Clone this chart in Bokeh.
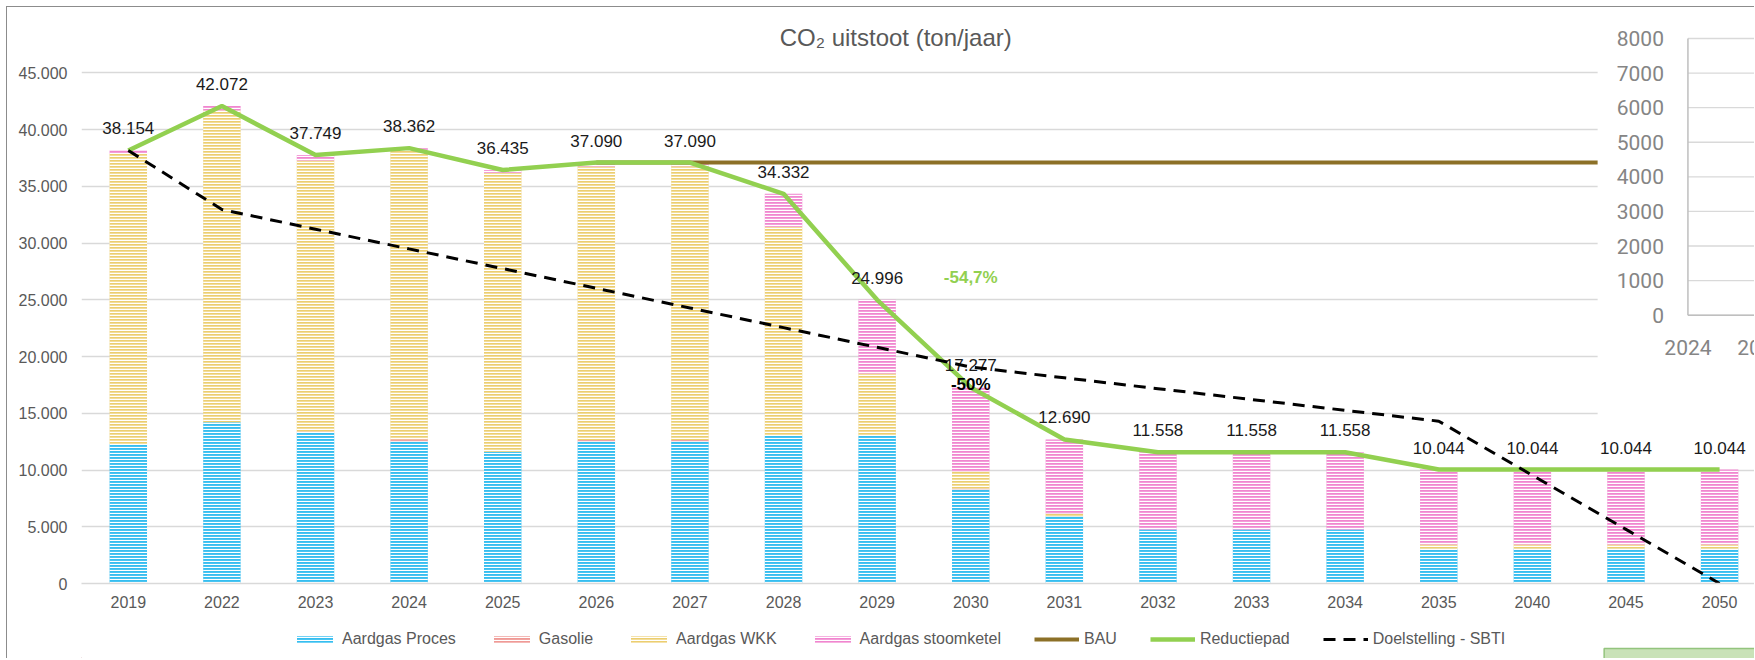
from bokeh.plotting import figure
from bokeh.layouts import column
from bokeh.models import ColumnDataSource, Range1d, FixedTicker, Legend, LegendItem
from bokeh.core.properties import value
from bokeh.embed import file_html
from bokeh.resources import INLINE

# ---------------- data ----------------
categories = ["2019", "2022", "2023", "2024", "2025", "2026", "2027", "2028", "2029",
              "2030", "2031", "2032", "2033", "2034", "2035", "2040", "2045", "2050"]
aardgas_proces = [12300, 14200, 13250, 12500, 11600, 12500, 12500, 13000, 13000,
                  8280, 5930, 4750, 4760, 4760, 3060, 3060, 3060, 3060]
gasolie = [0, 0, 150, 200, 0, 150, 150, 0, 0,
           100, 0, 0, 0, 0, 0, 0, 0, 0]
aardgas_wkk = [25554, 27472, 23869, 25412, 24585, 24090, 24120, 18432, 5496,
               1510, 240, 0, 0, 0, 380, 380, 380, 380]
aardgas_stoomketel = [300, 400, 480, 250, 250, 350, 320, 2900, 6500,
                      7387, 6520, 6808, 6798, 6798, 6604, 6604, 6604, 6604]
totals = [38154, 42072, 37749, 38362, 36435, 37090, 37090, 34332, 24996,
          17277, 12690, 11558, 11558, 11558, 10044, 10044, 10044, 10044]
reductiepad = [38154, 42072, 37749, 38362, 36435, 37090, 37090, 34332, 24996,
               17277, 12690, 11558, 11558, 11558, 10044, 10044, 10044, 10044]
bau_categories = ["2026", "2027", "2028", "2029", "2030", "2031", "2032", "2033",
                  "2034", "2035", "2040", "2045", "2050"]
bau = [37090, 37090, 37090, 37090, 37090, 37090, 37090, 37090,
       37090, 37090, 37090, 37090, 37090]
doelstelling_sbti = [38154, 32951, 31217, 29482, 27748, 26013, 24279, 22545, 20810,
                     19077, 18122, 17167, 16212, 15257, 14302, 9535, 4767, 0]
y_ticks = [0, 5000, 10000, 15000, 20000, 25000, 30000, 35000, 40000, 45000]

annot_categories = ["2030", "2030"]
annot_values = [24996, 17277]
annot_texts = ["-54,7%", "-50%"]

inset_ticks = [0, 1000, 2000, 3000, 4000, 5000, 6000, 7000, 8000]
inset_years = [2024, 2025]

series_names = ["Aardgas Proces", "Gasolie", "Aardgas WKK", "Aardgas stoomketel"]
series_colors = ["#36BEF0", "#EF9A96", "#ECCE70", "#F086CF"]
series_hatch_weights = [1.2, 1.2, 1.6, 1.4]
line_names = ["BAU", "Reductiepad", "Doelstelling - SBTI"]


def nl(v):
    return f"{v:,}".replace(",", ".")


idx = list(range(len(categories)))
bau_x = [categories.index(c) for c in bau_categories]
annot_x = [categories.index(c) for c in annot_categories]

FONT = "Liberation Sans"
HATCH = dict(hatch_pattern="horizontal_line", hatch_color="white", hatch_scale=3)
BAU_STYLE = dict(line_color="#8C7027", line_width=4)
RED_STYLE = dict(line_color="#92D050", line_width=4.5)
SBTI_STYLE = dict(line_color="black", line_width=3, line_dash="12 8")

p = figure(width=1747, height=606,
           x_range=Range1d(-0.5, 17.373), y_range=Range1d(0, 50753),
           output_backend="svg", toolbar_location=None,
           min_border_left=74, min_border_right=0, min_border_top=0, min_border_bottom=30,
           background_fill_color="white", border_fill_color="white",
           outline_line_color=None)
p.extra_x_ranges = {"inset": Range1d(2001.99, 2024.912)}
p.extra_y_ranges = {"inset": Range1d(-7757.5, 8896.4)}

# axes
p.xaxis.ticker = FixedTicker(ticks=idx)
p.xaxis.major_label_overrides = {i: c for i, c in zip(idx, categories)}
p.yaxis.ticker = FixedTicker(ticks=y_ticks)
p.yaxis.major_label_overrides = {t: nl(t) for t in y_ticks}
for ax in (p.xaxis, p.yaxis):
    ax.major_tick_line_color = None
    ax.minor_tick_line_color = None
    ax.major_tick_out = 0
    ax.major_tick_in = 0
    ax.major_label_text_font = FONT
    ax.major_label_text_font_size = "16px"
    ax.major_label_text_color = "#595959"
p.yaxis.axis_line_color = None
p.xaxis.axis_line_color = "#D9D9D9"
p.xaxis.axis_line_width = 1.5
p.yaxis.major_label_standoff = 14
p.xaxis.major_label_standoff = 12
p.xgrid.visible = False
p.ygrid.grid_line_color = "#D9D9D9"
p.ygrid.grid_line_width = 1.5

# bars
src = ColumnDataSource(dict(x=idx, proces=aardgas_proces, gasolie=gasolie,
                            wkk=aardgas_wkk, stoomketel=aardgas_stoomketel))
bars = p.vbar_stack(["proces", "gasolie", "wkk", "stoomketel"], x="x", width=0.4,
                    source=src, fill_color=series_colors, line_color=None,
                    hatch_weight=series_hatch_weights, **HATCH)

# lines
p.line(bau_x, bau, **BAU_STYLE)
p.line(idx, reductiepad, **RED_STYLE)

# data labels
p.text(x=idx, y=totals, text=[nl(v) for v in totals], text_align="center",
       text_baseline="middle", y_offset=-22, text_font=value(FONT),
       text_font_size="17px", text_color="#1a1a1a")

p.line(idx, doelstelling_sbti, **SBTI_STYLE)

p.text(x=annot_x, y=annot_values, text=annot_texts, text_align="center",
       text_baseline="middle", y_offset=[-22, -3], text_font=value(FONT),
       text_font_size="17px", text_font_style="bold",
       text_color=["#92D050", "#000000"])

# title
p.text(x=[8.198], y=[48110], text=["CO\u2082 uitstoot (ton/jaar)"], text_align="center",
       text_baseline="middle", text_font=value(FONT), text_font_size="24px",
       text_color="#595959")

# overlapping second chart (partially visible)
p.quad(left=[15.697], right=[18.5], bottom=[14010], top=[60000],
       fill_color="white", line_color=None)
p.segment(x0=[2024] * len(inset_ticks), y0=inset_ticks, x1=[2030] * len(inset_ticks),
          y1=inset_ticks, line_color="#D9D9D9", line_width=1.3,
          x_range_name="inset", y_range_name="inset")
p.segment(x0=[2024, 2024], y0=[0, 0], x1=[2024, 2030], y1=[8000, 0],
          line_color="#BFBFBF", line_width=1.5,
          x_range_name="inset", y_range_name="inset")
p.text(x=[2024] * len(inset_ticks), y=inset_ticks, text=[str(t) for t in inset_ticks],
       x_offset=-24, text_align="right", text_baseline="middle",
       text_font=value("Roboto"), text_font_size="21px", text_color="#858585",
       x_range_name="inset", y_range_name="inset")
p.text(x=inset_years, y=[0, 0], text=[str(y) for y in inset_years],
       y_offset=32, text_align="center", text_baseline="middle",
       text_font=value("Roboto"), text_font_size="21px", text_color="#858585",
       x_range_name="inset", y_range_name="inset")

# ---------------- legend strip ----------------
lf = figure(width=1747, height=45, x_range=Range1d(0, 1747), y_range=Range1d(0, 45),
            x_axis_type=None, y_axis_type=None, output_backend="svg",
            toolbar_location=None, min_border=0, min_border_left=0, min_border_right=0,
            min_border_top=0, min_border_bottom=0,
            background_fill_color="white", border_fill_color="white",
            outline_line_color=None)
lf.xgrid.visible = False
lf.ygrid.visible = False

# legend proxies (placed outside the visible range of the strip)
leg_bars = [lf.vbar(x=[-1000], top=[1], width=1, fill_color=c, line_color=None,
                    hatch_weight=w, **HATCH)
            for c, w in zip(series_colors, series_hatch_weights)]
leg_lines = [lf.line(x=[-1000, -999], y=[0, 0], **BAU_STYLE),
             lf.line(x=[-1000, -999], y=[0, 0], **RED_STYLE),
             lf.line(x=[-1000, -999], y=[0, 0], **SBTI_STYLE)]

# corner of a neighbouring object in the screenshot
lf.quad(left=[1590], right=[1760], bottom=[-5], top=[10],
        fill_color="#C9E2B8", line_color="#93C47D", line_width=1.5)

items = [LegendItem(label=n, renderers=[r]) for n, r in zip(series_names, leg_bars)]
items += [LegendItem(label=n, renderers=[r]) for n, r in zip(line_names, leg_lines)]
legend = Legend(items=items, orientation="horizontal", location=(211, 10),
                glyph_width=45, glyph_height=8, label_standoff=5, spacing=33,
                padding=2, margin=0, label_text_font=FONT, label_text_font_size="16px",
                label_text_color="#595959", border_line_color=None,
                background_fill_alpha=0)
lf.add_layout(legend)

layout = column(p, lf, spacing=0,
                styles={"margin-left": "6px", "margin-top": "6px",
                        "border-top": "1px solid #8c8c8c",
                        "border-left": "1px solid #8c8c8c"})

open("out.html", "w").write(file_html(layout, INLINE))
